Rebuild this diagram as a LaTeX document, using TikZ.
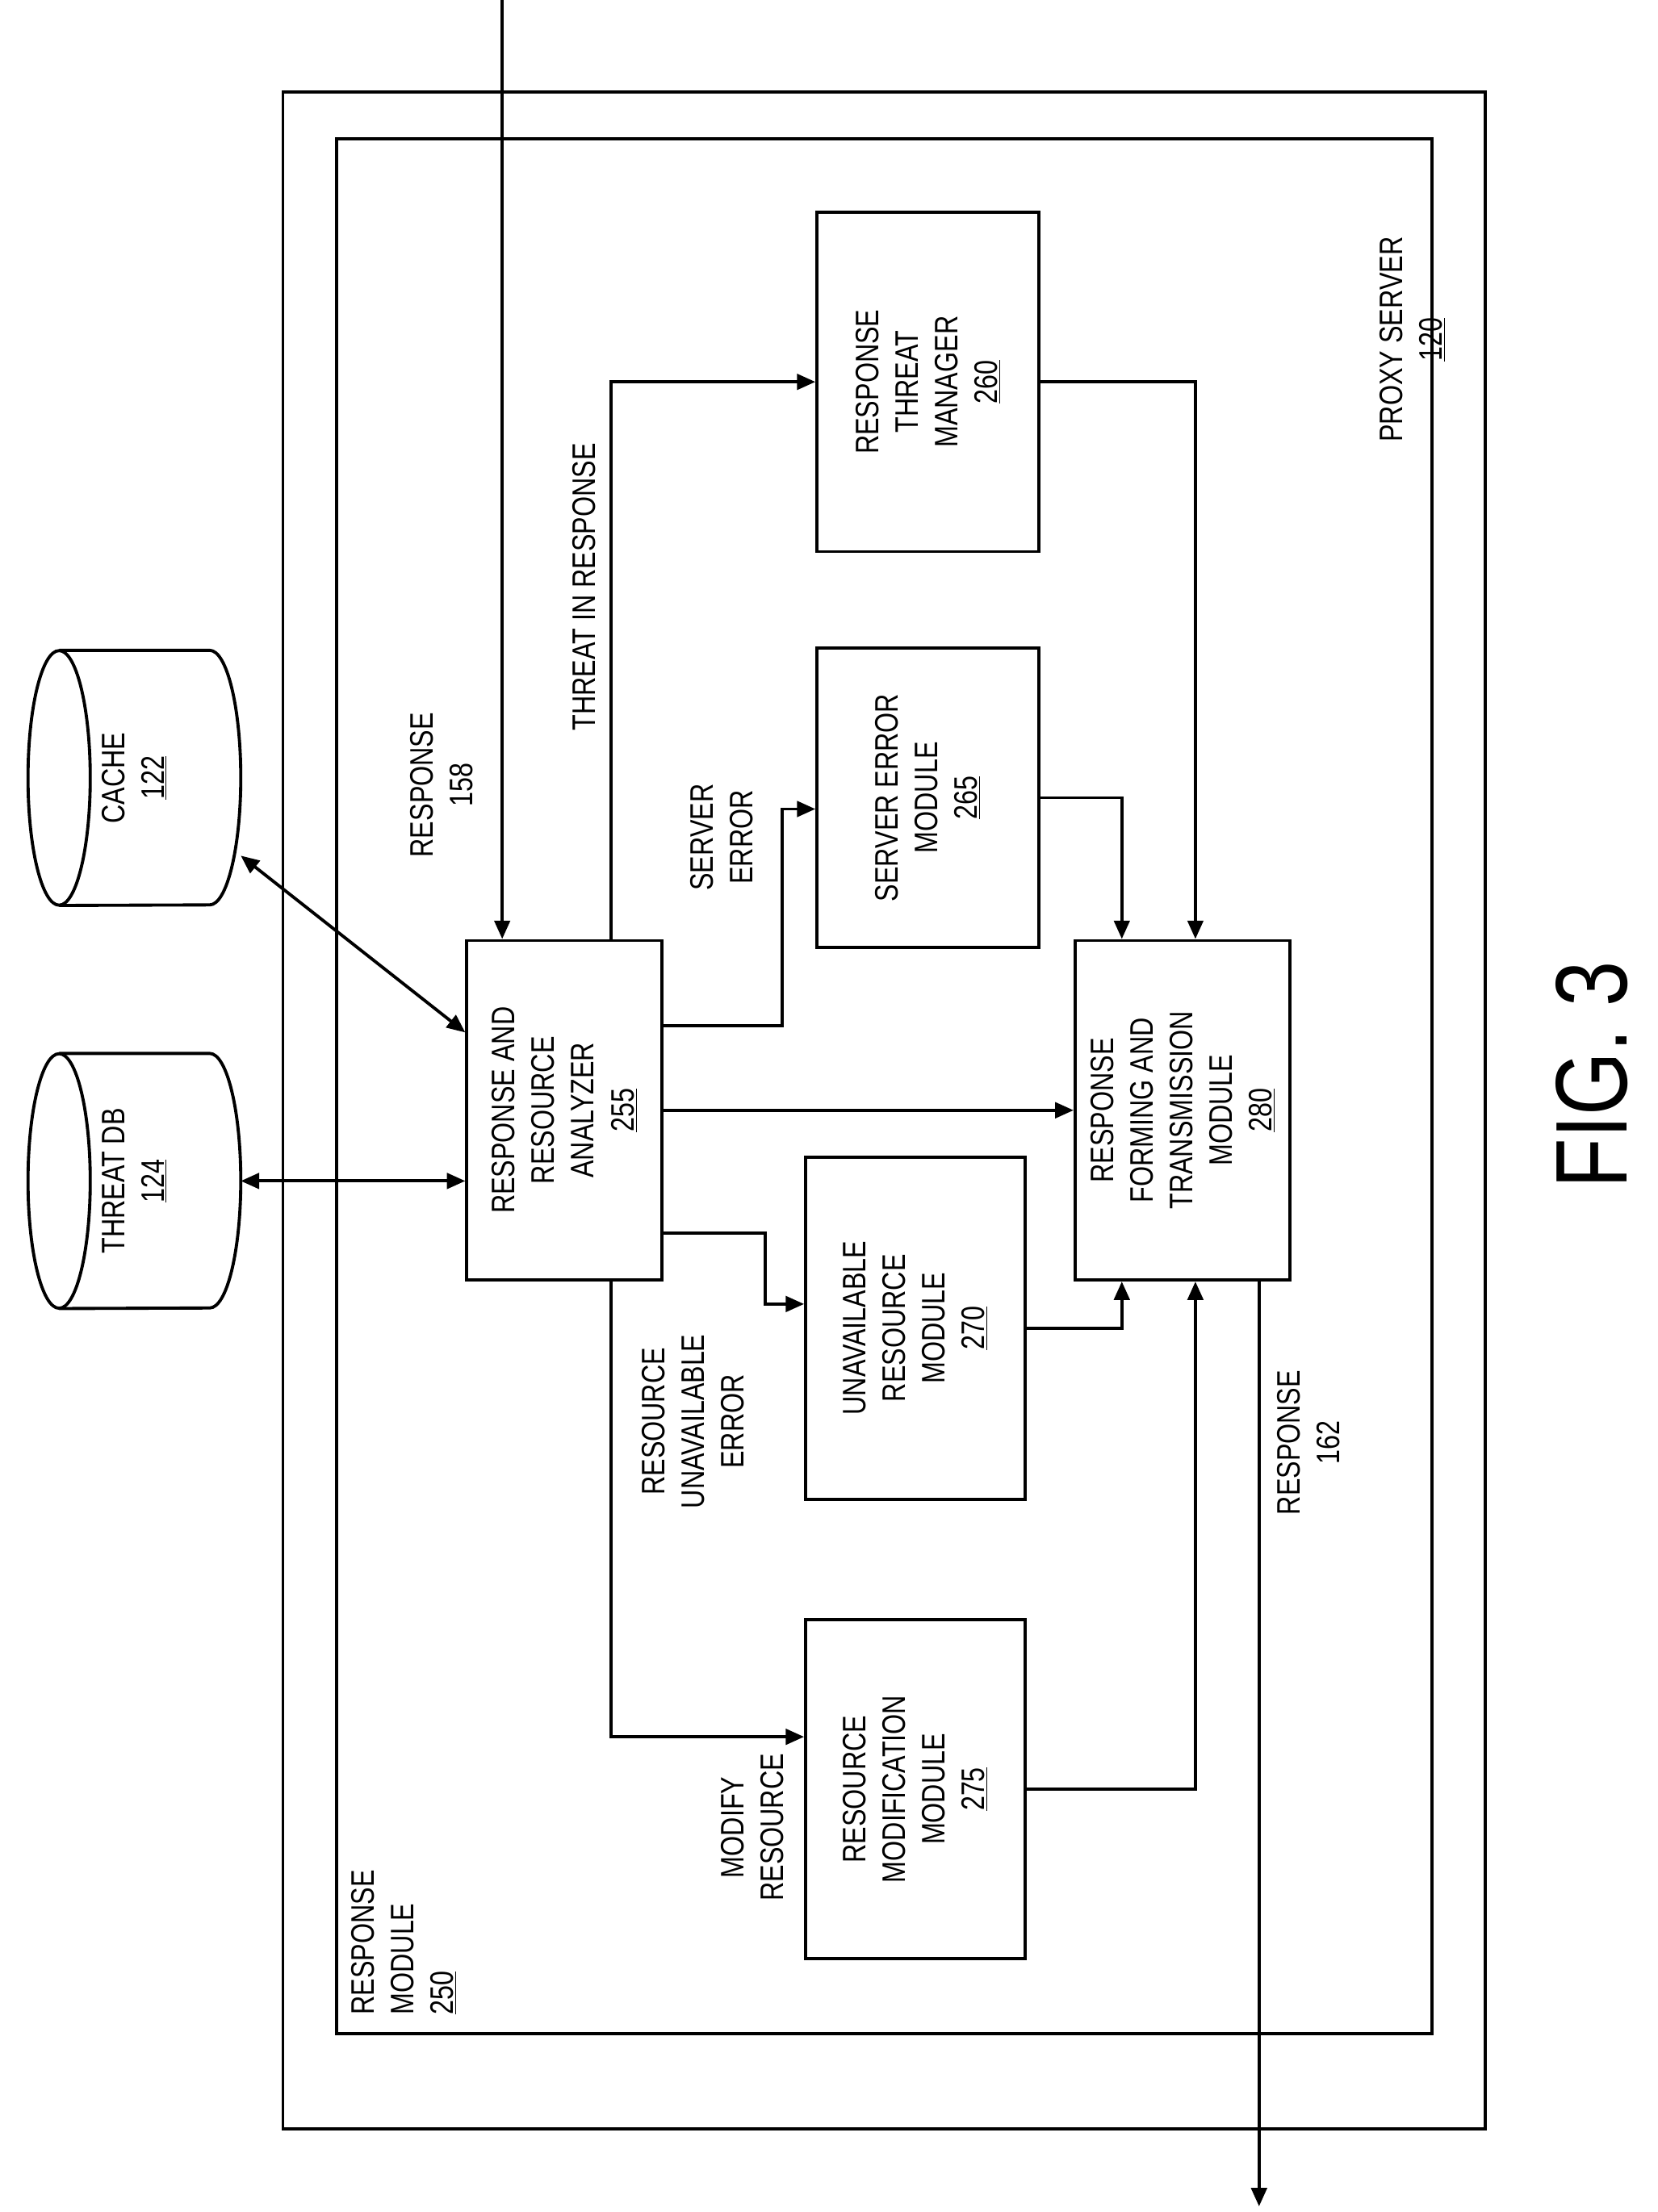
\documentclass[tikz,border=0pt]{standalone}
\usepackage{fontspec}
\setmainfont{Liberation Sans}[FakeStretch=0.8]
\usetikzlibrary{arrows.meta}
\tikzset{
  box/.style={draw, line width=2.2pt, inner sep=0pt},
  txt/.style={rotate=90, align=center, font=\fontsize{23}{28}\selectfont},
  db/.style={inner sep=0pt, minimum width=150pt, minimum height=180pt},
  arr/.style={line width=2.2pt, -{Triangle[length=13pt,width=11pt]}},
  darr/.style={line width=2.2pt, {Triangle[length=13pt,width=11pt]}-{Triangle[length=13pt,width=11pt]}}
}
\begin{document}
\begin{tikzpicture}[x=1pt,y=-1pt]
\useasboundingbox (0,0) rectangle (1172,1564);
% frames
\draw[line width=2.2pt] (200,65) rectangle (1050,1505);
\draw[line width=2.2pt] (238,98) rectangle (1012,1438);
\node[txt, anchor=south] at (1025,240) {PROXY SERVER\\\underline{120}};
\node[txt, align=left, anchor=north west] at (245,1428) {RESPONSE\\MODULE\\\underline{250}};
% modules
\node[box, minimum width=157pt, minimum height=240pt, label={[txt]center:RESPONSE\\THREAT\\MANAGER\\\underline{260}}] (rtm) at (656,270) {};
\node[box, minimum width=157pt, minimum height=212pt, label={[txt]center:SERVER ERROR\\MODULE\\\underline{265}}] (sem) at (656,564) {};
\node[box, minimum width=138pt, minimum height=240pt, label={[txt]center:RESPONSE AND\\RESOURCE\\ANALYZER\\\underline{255}}] (an) at (399,785) {};
\node[box, minimum width=152pt, minimum height=240pt, label={[txt]center:RESPONSE\\FORMING AND\\TRANSMISSION\\MODULE\\\underline{280}}] (fm) at (836,785) {};
\node[box, minimum width=155pt, minimum height=242pt, label={[txt]center:UNAVAILABLE\\RESOURCE\\MODULE\\\underline{270}}] (ur) at (647,939) {};
\node[box, minimum width=155pt, minimum height=240pt, label={[txt]center:RESOURCE\\MODIFICATION\\MODULE\\\underline{275}}] (rm) at (647,1265) {};
% stores
\node[db, label={[txt]center:CACHE\\\underline{122}}] (ca) at (95,550) {};
\node[db, label={[txt]center:THREAT DB\\\underline{124}}] (tdb) at (95,835) {};
\foreach \n in {ca,tdb}{
  \draw[line width=2.2pt] ([xshift=22pt]\n.west) ellipse (22pt and 90pt);
  \draw[line width=2.2pt, line join=round] ([xshift=22pt]\n.north west) -- ([xshift=-22pt]\n.north east)
    arc[start angle=90, end angle=-90, x radius=22pt, y radius=90pt] -- ([xshift=22pt]\n.south west);
}
% external lines
\coordinate (in) at (355,0);
\coordinate (out) at (890,1560);
\draw[arr] (in) -- ([xshift=-44pt]an.north);
\draw[arr] ([xshift=54pt]fm.south) -- (out);
\draw[darr] ([yshift=-55pt]ca.east) -- ([yshift=55pt]an.west);
\draw[darr] (tdb.east) -- (tdb.east -| an.west);
% analyzer outputs
\draw[arr] ([xshift=33pt]an.north) |- (rtm.west);
\draw[arr] ([yshift=60pt]an.east) -- ++(84pt,0) |- ([yshift=-8pt]sem.west);
\draw[arr] (an.east) -- (an.east -| fm.west);
\draw[arr] ([yshift=-87pt]an.east) -- ++(72pt,0) |- ([yshift=17pt]ur.west);
\draw[arr] ([xshift=33pt]an.south) |- ([yshift=37pt]rm.west);
% into forming module
\draw[arr] (rtm.east) -| ([xshift=9pt]fm.north);
\draw[arr] (sem.east) -| ([xshift=-43pt]fm.north);
\draw[arr] (ur.east) -| ([xshift=-43pt]fm.south);
\draw[arr] (rm.east) -| ([xshift=9pt]fm.south);
% labels
\node[txt] (l158) at (312,555) {RESPONSE\\158};
\node[txt] (lthr) at (413,415) {THREAT IN RESPONSE};
\node[txt] (lse) at (510,592) {SERVER\\ERROR};
\node[txt] (lrue) at (490,1005) {RESOURCE\\UNAVAILABLE\\ERROR};
\node[txt] (lmod) at (532,1292) {MODIFY\\RESOURCE};
\node[txt] (l162) at (925,1020) {RESPONSE\\162};
\node[rotate=90, font=\fontsize{72}{76}\selectfont] (fig) at (1125,760) {FIG. 3};
\end{tikzpicture}
\end{document}
